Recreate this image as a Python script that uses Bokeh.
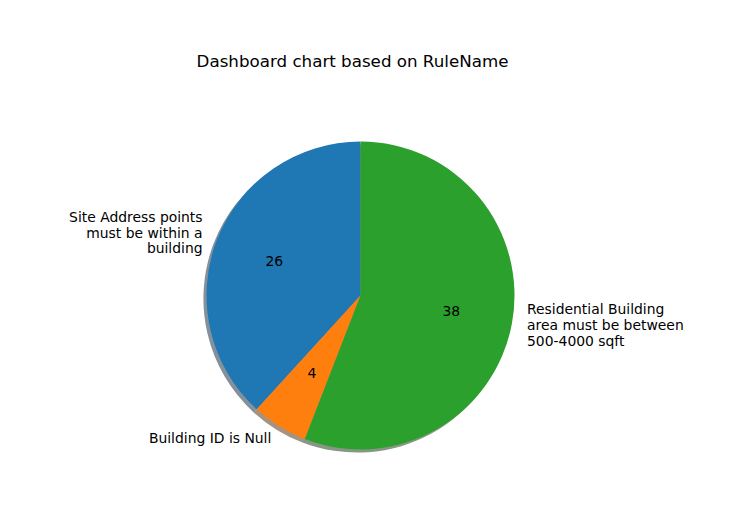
import math
from bokeh.plotting import figure
from bokeh.models import Range1d
from bokeh.core.properties import value
from bokeh.embed import file_html
from bokeh.resources import INLINE

title_text = "Dashboard chart based on RuleName"
categories = ["Site Address points\nmust be within a\nbuilding",
              "Building ID is Null",
              "Residential Building\narea must be between\n500-4000 sqft"]
counts = [26, 4, 38]
colors = ["#1f77b4", "#ff7f0e", "#2ca02c"]

W, H = 736, 512
p = figure(width=W, height=H, output_backend="svg", toolbar_location=None,
           x_range=Range1d(0, W), y_range=Range1d(528 - H, 528),
           min_border=0, outline_line_color=None)
p.axis.visible = False
p.grid.visible = False

cx, cy, r = 360, 528 - 295, 154
total = sum(counts)
FONT = value("DejaVu Sans")
NUDGE = 1.5

def darker(hexc):
    rr, gg, bb = int(hexc[1:3], 16), int(hexc[3:5], 16), int(hexc[5:7], 16)
    return "#%02x%02x%02x" % (int(rr * .3), int(gg * .3), int(bb * .3))

start = math.pi / 2
angles = []
for v in counts:
    a = v / total * 2 * math.pi
    angles.append((start, start + a))
    start += a

off = 0.02 * r
for (s, e), c in zip(angles, colors):
    p.wedge(x=cx - off, y=cy - off, radius=r, start_angle=s, end_angle=e,
            direction="anticlock", fill_color=darker(c),
            fill_alpha=0.5, line_color=None)
for (s, e), c in zip(angles, colors):
    p.wedge(x=cx, y=cy, radius=r, start_angle=s, end_angle=e,
            direction="anticlock", fill_color=c, line_color=None)

for (s, e), lab, v in zip(angles, categories, counts):
    mid = (s + e) / 2
    lx = cx + 1.1 * r * math.cos(mid)
    ly = cy + 1.1 * r * math.sin(mid) + NUDGE
    p.text(x=[lx], y=[ly], text=[lab], text_font=FONT, text_font_size="13.9px",
           text_align="right" if lx < cx else "left", text_baseline="middle",
           text_color="black", text_line_height=0.98)
    px = cx + 0.6 * r * math.cos(mid)
    py = cy + 0.6 * r * math.sin(mid) + NUDGE
    p.text(x=[px], y=[py], text=[str(v)], text_font=FONT, text_font_size="13.9px",
           text_align="center", text_baseline="middle", text_color="black")

p.text(x=[352], y=[528 - 60], text=[title_text], text_font=FONT,
       text_font_size="16.7px", text_align="center", text_baseline="middle",
       text_color="black")

open("out.html", "w").write(file_html(p, INLINE))
